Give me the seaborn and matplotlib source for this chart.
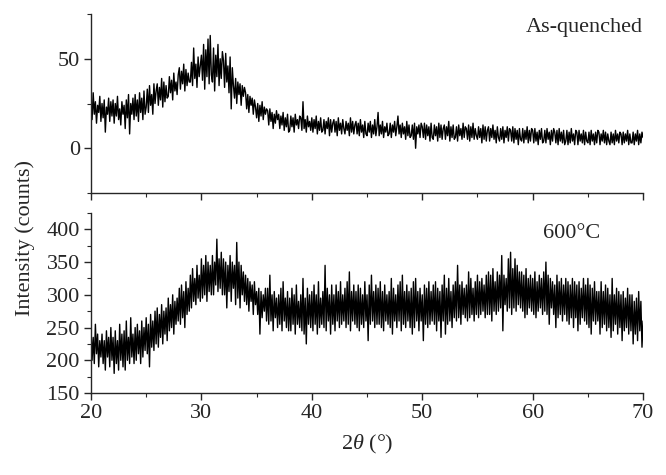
"""
XRD patterns: as-quenched vs 600°C annealed sample.
"""
import numpy as np
import pandas as pd
import matplotlib
matplotlib.use('Agg')
import matplotlib.pyplot as plt
from matplotlib.ticker import MultipleLocator
import seaborn as sns

sns.set_style("ticks")
plt.rcParams['font.family'] = ['Liberation Serif', 'DejaVu Serif']
plt.rcParams['mathtext.fontset'] = 'custom'
plt.rcParams['mathtext.rm'] = 'Liberation Serif'
plt.rcParams['mathtext.it'] = 'Liberation Serif:italic'
plt.rcParams['font.size'] = 15

# 2theta grid of the scan (0.1 deg step, 20..70)
two_theta = np.linspace(20, 70, 501)

# intensity, one row per degree (20.0 ... 20.9)
as_quenched = [
    28, 16, 31, 19, 26, 14, 24, 20, 29, 15,
    25, 17, 27, 9, 23, 19, 28, 15, 26, 18,
    27, 14, 25, 18, 29, 16, 22, 13, 26, 19,
    24, 11, 27, 17, 30, 8, 25, 19, 28, 16,
    30, 18, 27, 15, 31, 20, 28, 16, 32, 19,
    23, 33, 20, 35, 24, 30, 19, 36, 25, 32,
    36, 24, 34, 27, 39, 23, 37, 26, 35, 28,
    29, 40, 31, 38, 27, 42, 32, 37, 30, 41,
    45, 33, 43, 36, 47, 32, 44, 35, 42, 37,
    37, 48, 35, 56, 39, 47, 34, 51, 40, 46,
    52, 38, 58, 33, 55, 40, 61, 36, 63, 41,
    37, 56, 32, 52, 40, 58, 35, 50, 39, 54,
    49, 34, 53, 37, 46, 31, 51, 22, 45, 35,
    28, 39, 25, 37, 30, 36, 24, 35, 29, 34,
    31, 22, 30, 20, 29, 24, 28, 19, 27, 23,
    17, 25, 15, 24, 18, 26, 16, 23, 19, 22,
    21, 13, 22, 15, 20, 11, 19, 14, 21, 16,
    19, 11, 18, 13, 20, 10, 17, 12, 19, 9,
    10, 18, 12, 17, 9, 19, 13, 16, 11, 18,
    17, 10, 26, 11, 16, 9, 18, 12, 15, 10,
    17, 9, 16, 11, 18, 8, 15, 10, 17, 9,
    10, 16, 8, 15, 11, 17, 7, 16, 9, 14,
    16, 9, 15, 7, 17, 10, 14, 8, 16, 11,
    8, 15, 10, 14, 7, 17, 9, 15, 8, 13,
    15, 8, 14, 7, 16, 9, 13, 6, 15, 8,
    7, 14, 9, 15, 6, 13, 8, 16, 7, 12,
    20, 7, 13, 8, 15, 6, 12, 9, 14, 7,
    8, 14, 6, 13, 9, 15, 7, 12, 18, 8,
    13, 6, 14, 8, 12, 5, 15, 7, 13, 6,
    7, 13, 5, 14, 0, 12, 8, 13, 6, 14,
    12, 6, 14, 5, 13, 7, 12, 4, 14, 6,
    5, 13, 7, 12, 4, 14, 6, 13, 5, 11,
    13, 5, 12, 7, 15, 4, 12, 6, 13, 5,
    6, 12, 4, 13, 7, 11, 5, 14, 6, 12,
    11, 5, 13, 4, 12, 6, 14, 5, 11, 7,
    5, 12, 6, 11, 3, 13, 5, 12, 4, 10,
    12, 4, 11, 6, 13, 5, 10, 3, 12, 6,
    4, 11, 5, 12, 3, 10, 6, 12, 4, 11,
    10, 4, 12, 3, 11, 5, 10, 2, 11, 5,
    4, 11, 3, 10, 5, 12, 3, 10, 4, 11,
    10, 3, 11, 4, 9, 2, 10, 5, 11, 3,
    4, 10, 3, 11, 5, 9, 2, 10, 4, 11,
    9, 3, 10, 2, 11, 4, 9, 3, 10, 2,
    4, 10, 2, 9, 3, 11, 4, 8, 2, 10,
    9, 2, 10, 4, 8, 3, 10, 2, 9, 4,
    3, 9, 2, 10, 4, 8, 2, 9, 3, 10,
    9, 2, 8, 4, 10, 3, 9, 2, 8, 4,
    2, 9, 3, 8, 2, 10, 4, 8, 3, 9,
    8, 2, 9, 3, 8, 4, 10, 2, 8, 3,
    3, 9, 2, 8, 4, 10, 2, 8, 3, 9,
    6,
]

annealed_600 = [
    250, 200, 235, 195, 255, 210, 240, 190, 230, 205,
    240, 195, 230, 185, 245, 205, 235, 190, 250, 200,
    235, 180, 245, 195, 230, 185, 255, 200, 240, 190,
    245, 185, 260, 200, 235, 195, 265, 205, 240, 195,
    250, 200, 255, 210, 245, 195, 260, 205, 250, 215,
    265, 210, 255, 190, 270, 220, 260, 215, 275, 225,
    280, 220, 270, 235, 285, 225, 275, 240, 280, 230,
    295, 245, 285, 250, 300, 240, 290, 255, 295, 260,
    310, 255, 315, 265, 305, 250, 320, 270, 310, 275,
    330, 280, 340, 290, 325, 285, 345, 295, 330, 290,
    355, 295, 345, 300, 360, 290, 350, 305, 345, 300,
    360, 300, 350, 315, 385, 305, 355, 310, 365, 300,
    355, 300, 350, 280, 345, 305, 360, 290, 350, 310,
    345, 285, 380, 295, 350, 280, 345, 300, 335, 290,
    330, 285, 325, 275, 320, 290, 315, 270, 320, 285,
    305, 270, 310, 240, 305, 265, 300, 275, 310, 260,
    310, 255, 330, 260, 300, 245, 305, 265, 295, 250,
    300, 255, 310, 245, 320, 260, 295, 250, 305, 245,
    295, 245, 310, 255, 300, 240, 315, 255, 290, 250,
    300, 245, 325, 240, 295, 225, 310, 255, 300, 250,
    305, 245, 315, 255, 300, 240, 320, 250, 295, 255,
    305, 250, 345, 245, 310, 260, 300, 240, 315, 255,
    300, 245, 315, 260, 305, 250, 320, 255, 300, 260,
    310, 250, 320, 255, 335, 245, 305, 260, 315, 255,
    305, 250, 315, 245, 310, 255, 300, 250, 320, 260,
    300, 230, 315, 255, 330, 260, 305, 250, 315, 255,
    310, 255, 320, 250, 305, 245, 315, 260, 300, 255,
    305, 250, 325, 240, 310, 260, 300, 250, 315, 260,
    320, 245, 330, 255, 305, 250, 315, 260, 305, 250,
    310, 240, 320, 250, 325, 260, 305, 245, 310, 260,
    300, 230, 315, 255, 310, 250, 320, 255, 305, 260,
    315, 255, 320, 245, 310, 260, 305, 235, 315, 260,
    330, 240, 310, 255, 325, 260, 305, 250, 315, 265,
    320, 260, 345, 265, 315, 255, 320, 270, 310, 265,
    315, 260, 335, 265, 325, 270, 310, 260, 320, 270,
    330, 265, 320, 270, 325, 275, 315, 265, 330, 270,
    335, 270, 330, 260, 340, 275, 320, 270, 335, 275,
    330, 280, 360, 245, 330, 285, 325, 275, 355, 280,
    365, 270, 340, 280, 355, 275, 345, 285, 335, 280,
    335, 275, 330, 265, 340, 270, 325, 280, 330, 275,
    325, 270, 335, 265, 320, 275, 330, 280, 325, 270,
    335, 275, 350, 270, 330, 255, 325, 280, 320, 270,
    315, 250, 330, 265, 320, 270, 325, 260, 315, 270,
    325, 260, 320, 255, 315, 265, 325, 250, 320, 265,
    315, 245, 320, 255, 310, 265, 325, 260, 315, 255,
    325, 250, 315, 240, 310, 260, 320, 255, 305, 260,
    305, 240, 320, 250, 305, 255, 315, 245, 310, 250,
    300, 235, 325, 245, 300, 255, 310, 240, 305, 250,
    300, 230, 305, 245, 295, 250, 310, 240, 300, 245,
    300, 225, 290, 240, 295, 230, 305, 245, 290, 220,
    260,
]

panels = [
    ('As-quenched', as_quenched, (-25, 75), [0, 50]),
    ('600°C', annealed_600, (150, 425), [150, 200, 250, 300, 350, 400]),
]

fig = plt.figure(figsize=(6.66, 4.75), dpi=100)
ax_top = fig.add_axes([0.1366, 0.5937, 0.829, 0.3768])
ax_bot = fig.add_axes([0.1366, 0.1726, 0.829, 0.379])

for ax, (label, vals, ylim, yticks) in zip([ax_top, ax_bot], panels):
    df = pd.DataFrame({'two_theta': two_theta, 'intensity': vals})
    sns.lineplot(data=df, x='two_theta', y='intensity', ax=ax,
                 color='black', linewidth=1.0, estimator=None)
    ax.set_xlim(20, 70)
    ax.set_ylim(*ylim)
    ax.set_yticks(yticks)
    ax.xaxis.set_major_locator(MultipleLocator(10))
    ax.xaxis.set_minor_locator(MultipleLocator(5))
    ax.yaxis.set_minor_locator(MultipleLocator(25))
    ax.set_xlabel('')
    ax.set_ylabel('')
    for side in ['top', 'right']:
        ax.spines[side].set_visible(False)
    for side in ['left', 'bottom']:
        ax.spines[side].set_linewidth(1.0)
    ax.tick_params(which='major', direction='out', length=5, width=1.0,
                   labelsize=16, pad=3)
    ax.tick_params(which='minor', direction='out', length=3, width=0.8)

ax_top.tick_params(axis='x', labelbottom=False)

ax_top.text(1.0, 0.98, 'As-quenched', transform=ax_top.transAxes,
            ha='right', va='top', fontsize=16)
ax_bot.text(0.87, 0.94, '600°C', transform=ax_bot.transAxes,
            ha='center', va='top', fontsize=16)

ax_bot.set_xlabel(r'2$\theta$ (°)', fontsize=16, labelpad=7)
fig.text(0.038, 0.5, 'Intensity (counts)', rotation=90,
         ha='center', va='center', fontsize=16)

plt.savefig('out.png', dpi=100)
plt.close()
